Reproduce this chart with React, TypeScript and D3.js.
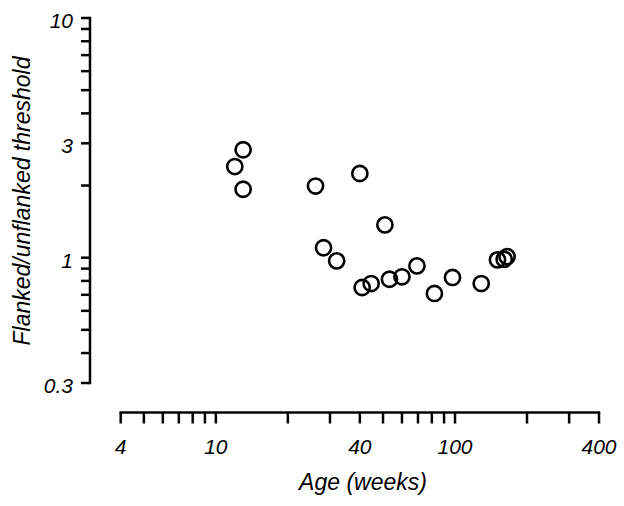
import React from "react";
import * as d3 from "d3";

const ageWeeks = [13.0, 12.0, 13.0, 26.1, 40.0, 50.9, 28.2, 32.0, 40.9, 44.6, 53.2, 60.0, 69.3, 82.0, 97.6, 128.7, 150.5, 160.5, 165.0];
const ratio = [2.82, 2.40, 1.93, 1.99, 2.245, 1.37, 1.10, 0.97, 0.751, 0.78, 0.813, 0.832, 0.924, 0.709, 0.827, 0.78, 0.979, 0.985, 1.01];

const xTicks = [4, 5, 6, 7, 8, 9, 10, 20, 30, 40, 50, 60, 70, 80, 90, 100, 200, 300, 400];
const xLabels = [4, 10, 40, 100, 400];
const yTicks = [10, 9, 8, 7, 6, 5, 4, 3, 2, 1, 0.9, 0.8, 0.7, 0.6, 0.5, 0.4, 0.3];
const yLabels = [10, 3, 1, 0.3];

export default function App() {
  const W = 624, H = 506;
  const x = d3.scaleLog().domain([4, 400]).range([120.7, 599]);
  const y = d3.scaleLog().domain([0.3, 10]).range([383, 18]);
  const xAxisY = 412.5;
  const yAxisX = 90;
  const font = "'Liberation Sans', Arial, Helvetica, sans-serif";
  return (
    <svg width={W} height={H} style={{ position: "absolute", left: 0, top: 0, background: "#fff" }}>
      <g stroke="#000" strokeWidth={2.5} fill="none">
        <line x1={yAxisX} x2={yAxisX} y1={y(10) - 1.25} y2={y(0.3) + 1.25} />
        {yTicks.map((t) => (
          <line key={t} x1={yAxisX - 9} x2={yAxisX} y1={y(t)} y2={y(t)} />
        ))}
        <line x1={x(4) - 1.25} x2={x(400) + 1.25} y1={xAxisY} y2={xAxisY} />
        {xTicks.map((t) => (
          <line key={t} x1={x(t)} x2={x(t)} y1={xAxisY} y2={xAxisY + 11} />
        ))}
      </g>
      <g fontFamily={font} fontStyle="italic" fontSize={21} fill="#000">
        {yLabels.map((t) => (
          <text key={t} x={73} y={y(t)} dy="0.48em" textAnchor="end">{t}</text>
        ))}
        {xLabels.map((t) => (
          <text key={t} x={x(t)} y={454} textAnchor="middle">{t}</text>
        ))}
      </g>
      <text x={363} y={490} fontFamily={font} fontStyle="italic" fontSize={23} textAnchor="middle">Age (weeks)</text>
      <text transform={`translate(30,201) rotate(-90)`} fontFamily={font} fontStyle="italic" fontSize={23} textAnchor="middle">Flanked/unflanked threshold</text>
      <g stroke="#000" strokeWidth={2.6} fill="none">
        {ageWeeks.map((a, i) => (
          <circle key={i} cx={x(a)} cy={y(ratio[i])} r={7.6} />
        ))}
      </g>
    </svg>
  );
}
